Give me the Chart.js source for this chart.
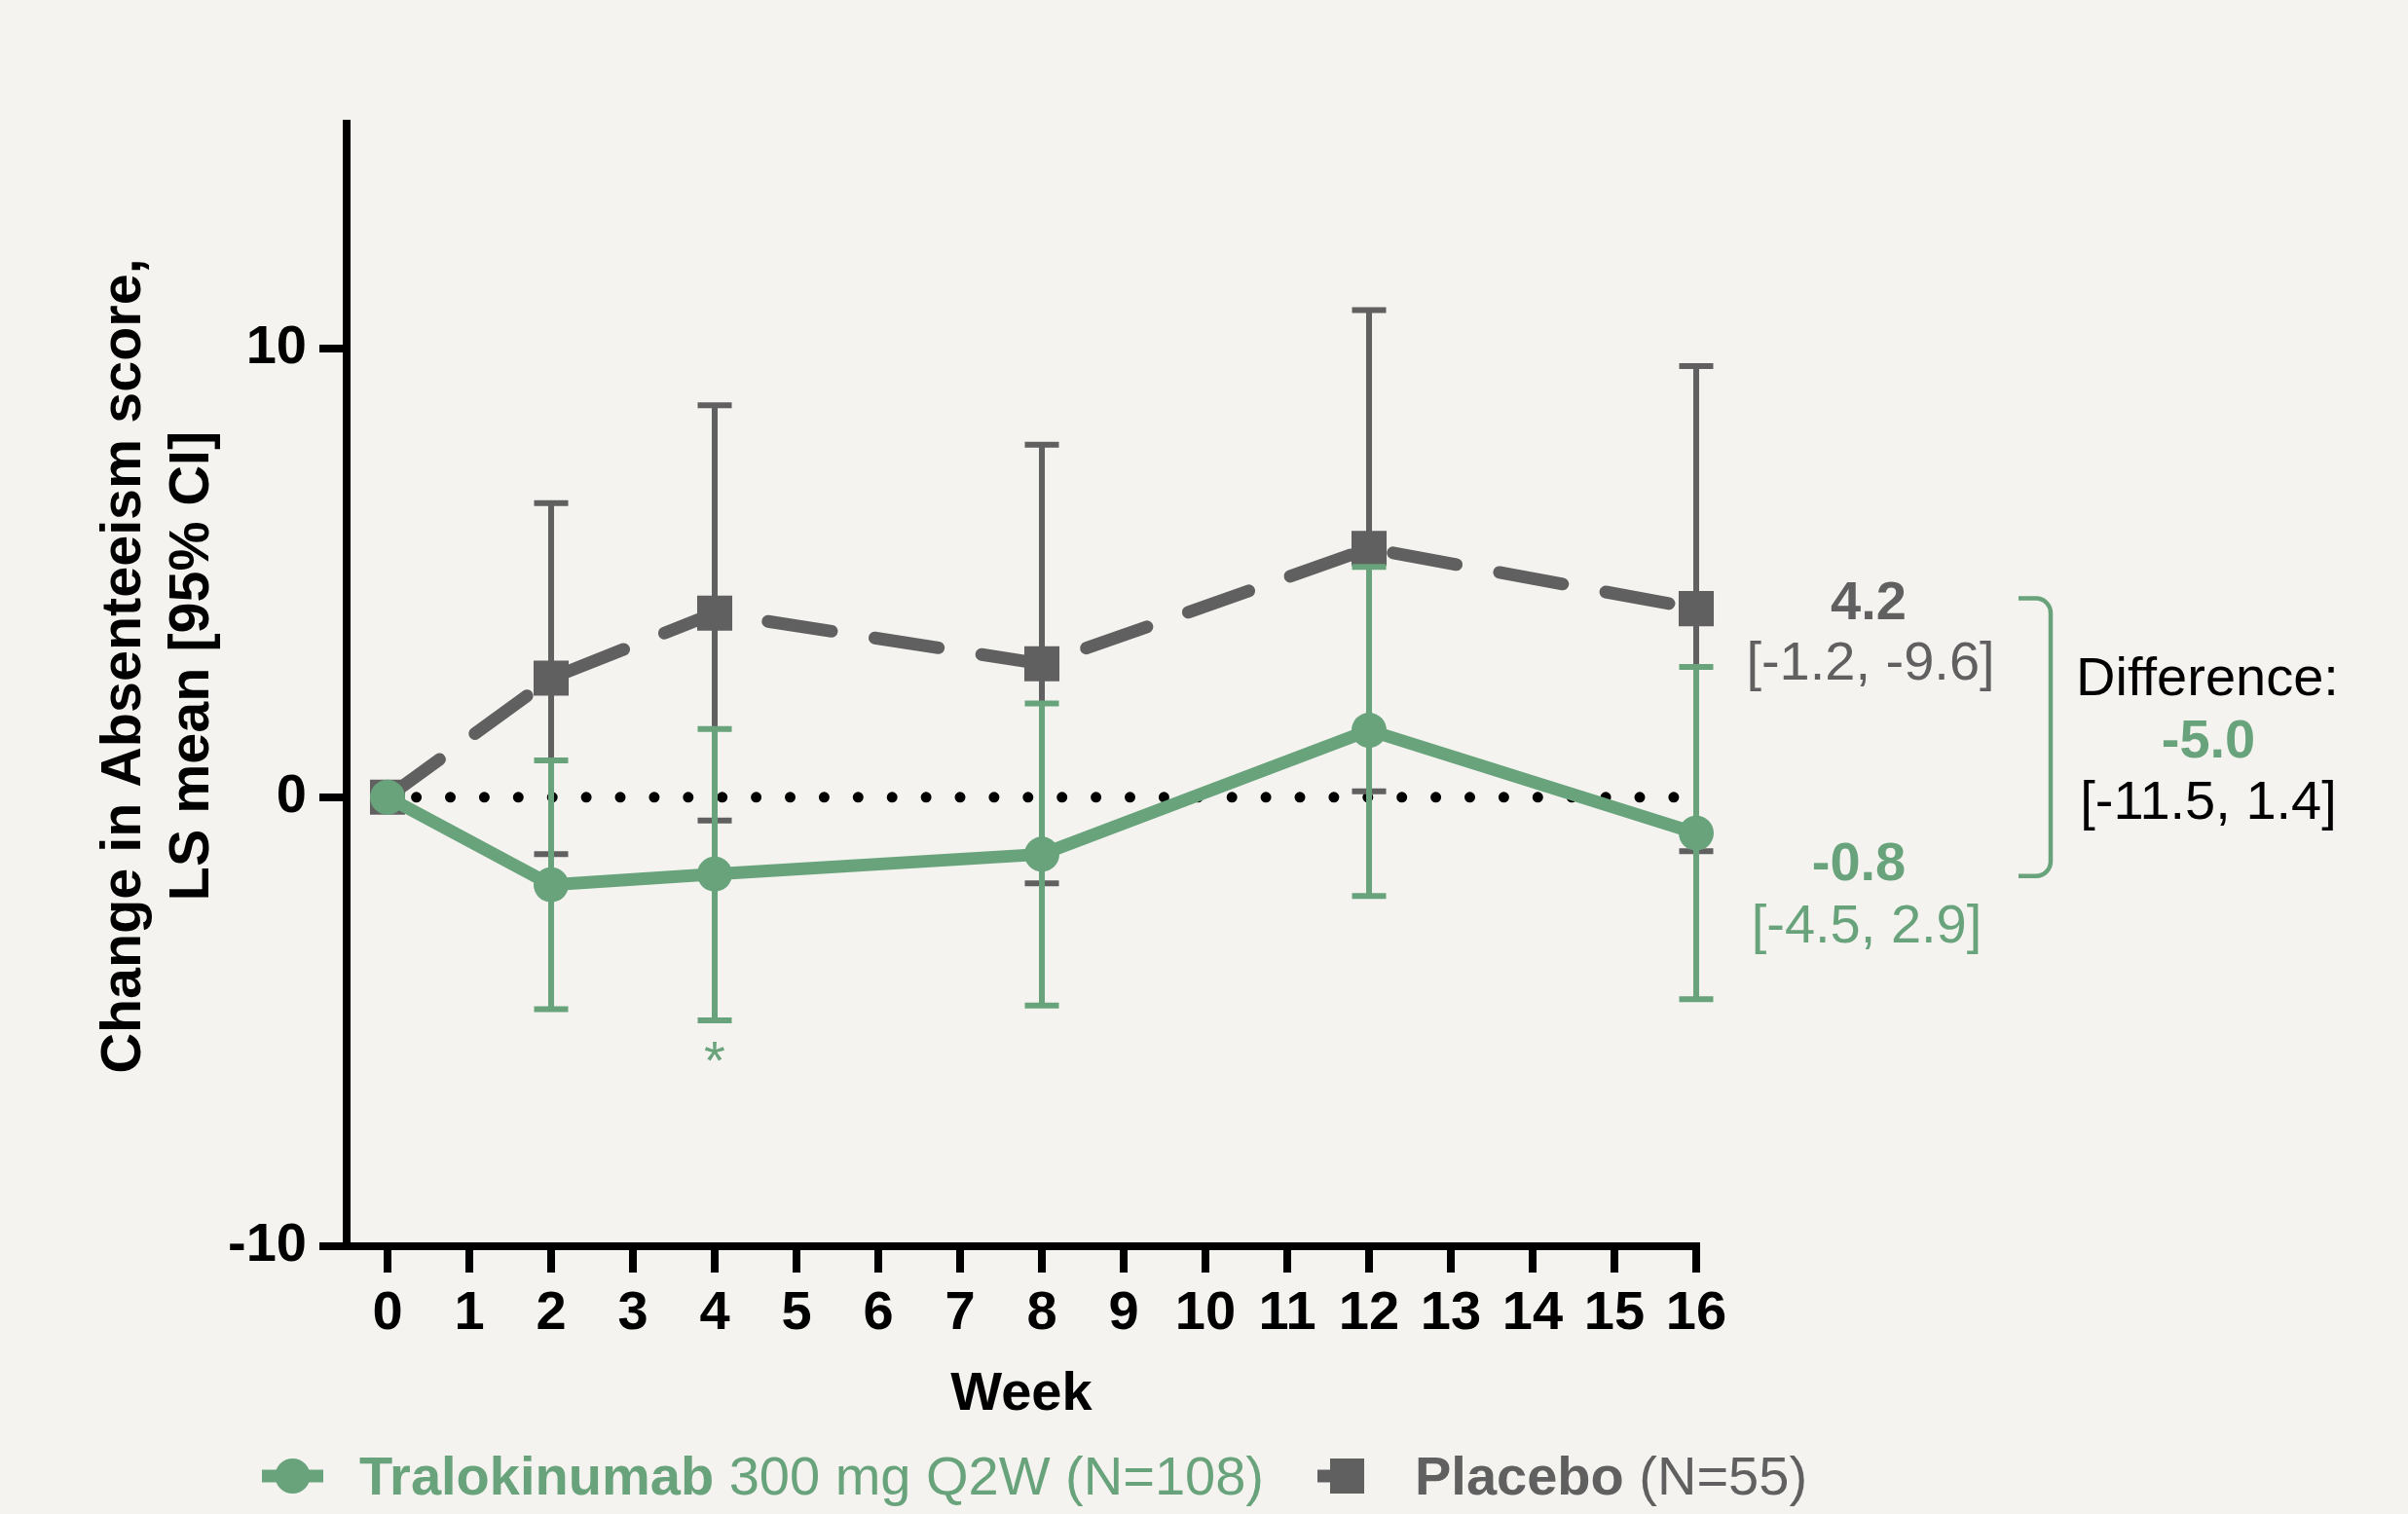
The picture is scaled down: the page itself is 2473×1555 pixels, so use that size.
<!DOCTYPE html>
<html>
<head>
<meta charset="utf-8">
<title>Change in Absenteeism score</title>
<script src="https://cdn.jsdelivr.net/npm/chart.js@4.4.1/dist/chart.umd.min.js"></script>
<style>
  html, body { margin: 0; padding: 0; background: #F4F3EF; }
  canvas { display: block; }
</style>
</head>
<body>
<canvas id="chart" width="2473" height="1555"></canvas>
<script>
// Visit weeks and LS means with 95% CI bounds (null = no interval at baseline)
const weeks = [0, 2, 4, 8, 12, 16];
const tralokinumabMean  = [0, -1.95, -1.71, -1.27, 1.49, -0.8];
const tralokinumabLower = [null, -4.72, -4.97, -4.64, -2.2, -4.5];
const tralokinumabUpper = [null, 0.82, 1.52, 2.09, 5.13, 2.9];
const placeboMean  = [0, 2.65, 4.1, 2.97, 5.54, 4.2];
const placeboLower = [null, -1.27, -0.52, -1.92, 0.13, -1.2];
const placeboUpper = [null, 6.55, 8.73, 7.85, 10.85, 9.6];

// Axis ticks
const xTicks = [0, 1, 2, 3, 4, 5, 6, 7, 8, 9, 10, 11, 12, 13, 14, 15, 16];
const yTicks = [-10, 0, 10];

// Week-16 summary labels
const placeboEndLabel = '4.2';
const placeboEndCI = '[-1.2, -9.6]';
const tralokinumabEndLabel = '-0.8';
const tralokinumabEndCI = '[-4.5, 2.9]';
const differenceTitle = 'Difference:';
const differenceValue = '-5.0';
const differenceCI = '[-11.5, 1.4]';
const significantWeek = 4;

const GREEN = '#68A37C';
const GRAY = '#606060';
const INK = '#000000';
const FONT = "'Liberation Sans', Arial, Helvetica, sans-serif";

const toPoints = (means) => weeks.map((w, i) => ({ x: w, y: means[i] }));

// Vertical CI whiskers, drawn just beneath each dataset's own line and markers
const errorBars = {
  id: 'errorBars',
  beforeDatasetDraw(chart, args) {
    const ds = chart.data.datasets[args.index];
    if (!ds.ciLow) return;
    const { ctx, scales: { x, y } } = chart;
    const half = 17.5;
    ctx.save();
    ctx.strokeStyle = ds.borderColor;
    ctx.lineWidth = 6;
    ctx.lineCap = 'butt';
    ctx.setLineDash([]);
    ds.data.forEach((p, i) => {
      const lo = ds.ciLow[i], hi = ds.ciHigh[i];
      if (lo == null || hi == null) return;
      const px = x.getPixelForValue(p.x);
      const yLo = y.getPixelForValue(lo);
      const yHi = y.getPixelForValue(hi);
      ctx.beginPath();
      ctx.moveTo(px, yLo); ctx.lineTo(px, yHi);
      ctx.moveTo(px - half, yLo); ctx.lineTo(px + half, yLo);
      ctx.moveTo(px - half, yHi); ctx.lineTo(px + half, yHi);
      ctx.stroke();
    });
    ctx.restore();
  }
};

function font(size, bold) {
  return (bold ? 'bold ' : '') + size + 'px ' + FONT;
}

// Axis title, week-16 annotations, difference bracket and legend
const decorations = {
  id: 'decorations',
  afterDraw(chart) {
    const { ctx, scales: { x, y } } = chart;
    ctx.save();

    // rotated y-axis title
    ctx.save();
    ctx.translate(0, 684);
    ctx.rotate(-Math.PI / 2);
    ctx.fillStyle = INK;
    ctx.font = font(57.5, true);
    ctx.textAlign = 'center';
    ctx.textBaseline = 'middle';
    ctx.fillText('Change in Absenteeism score,', 0, 128);
    ctx.fillText('LS mean [95% CI]', 0, 198);
    ctx.restore();

    // significance marker under week 4
    const i4 = weeks.indexOf(significantWeek);
    ctx.fillStyle = GREEN;
    ctx.font = font(56, false);
    ctx.textAlign = 'center';
    ctx.textBaseline = 'alphabetic';
    ctx.fillText('*', x.getPixelForValue(significantWeek), y.getPixelForValue(tralokinumabLower[i4]) + 60);

    // week-16 values
    const x16 = x.getPixelForValue(16);
    const yP = y.getPixelForValue(placeboMean[5]);
    const yT = y.getPixelForValue(tralokinumabMean[5]);
    const y0 = y.getPixelForValue(0);

    ctx.fillStyle = GRAY;
    ctx.font = font(56, true);
    ctx.fillText(placeboEndLabel, x16 + 177, yP + 10.5);
    ctx.font = font(56, false);
    ctx.fillText(placeboEndCI, x16 + 179, yP + 72.5);

    ctx.fillStyle = GREEN;
    ctx.font = font(56, true);
    ctx.fillText(tralokinumabEndLabel, x16 + 167, yT + 48);
    ctx.font = font(56, false);
    ctx.fillText(tralokinumabEndCI, x16 + 175, yT + 112);

    // bracket joining the two week-16 values
    const bx = x16 + 364, bl = x16 + 331, r = 15;
    const bt = yP - 10.5, bb = yT + 44;
    ctx.strokeStyle = GREEN;
    ctx.lineWidth = 4.5;
    ctx.lineCap = 'butt';
    ctx.beginPath();
    ctx.moveTo(bl, bt);
    ctx.arcTo(bx, bt, bx, bt + r * 2, r);
    ctx.arcTo(bx, bb, bl, bb, r);
    ctx.lineTo(bl, bb);
    ctx.stroke();

    // difference block
    ctx.fillStyle = INK;
    ctx.font = font(56, false);
    ctx.fillText(differenceTitle, x16 + 525, y0 - 105);
    ctx.fillStyle = GREEN;
    ctx.font = font(56, true);
    ctx.fillText(differenceValue, x16 + 526, y0 - 41);
    ctx.fillStyle = INK;
    ctx.font = font(56, false);
    ctx.fillText(differenceCI, x16 + 526, y0 + 22);

    // legend
    const ly = 1516, base = 1535;
    ctx.strokeStyle = GREEN;
    ctx.lineWidth = 13;
    ctx.beginPath(); ctx.moveTo(269, ly); ctx.lineTo(332, ly); ctx.stroke();
    ctx.fillStyle = GREEN;
    ctx.beginPath(); ctx.arc(300.5, ly, 18, 0, Math.PI * 2); ctx.fill();
    ctx.textAlign = 'left';
    ctx.font = font(56, true);
    ctx.fillText('Tralokinumab', 369, base);
    let w = ctx.measureText('Tralokinumab').width;
    ctx.font = font(56, false);
    ctx.fillText(' 300 mg Q2W (N=108)', 369 + w, base);

    ctx.strokeStyle = GRAY;
    ctx.beginPath(); ctx.moveTo(1353, ly); ctx.lineTo(1383, ly); ctx.stroke();
    ctx.fillStyle = GRAY;
    ctx.fillRect(1366, ly - 18, 35, 36);
    ctx.font = font(56, true);
    ctx.fillText('Placebo', 1453, base);
    w = ctx.measureText('Placebo').width;
    ctx.font = font(56, false);
    ctx.fillText(' (N=55)', 1453 + w, base);

    ctx.restore();
  }
};

const tickFont = { family: FONT, size: 56, weight: 'bold' };

new Chart(document.getElementById('chart'), {
  type: 'line',
  data: {
    datasets: [
      {
        label: 'Zero',
        data: [{ x: 0, y: 0 }, { x: 16, y: 0 }],
        borderColor: INK,
        borderWidth: 11,
        borderDash: [0, 34.9],
        borderDashOffset: 5.3,
        borderCapStyle: 'round',
        pointRadius: 0,
        order: 3
      },
      {
        label: 'Placebo (N=55)',
        data: toPoints(placeboMean),
        ciLow: placeboLower,
        ciHigh: placeboUpper,
        borderColor: GRAY,
        backgroundColor: GRAY,
        borderWidth: 13,
        borderDash: [66, 45],
        borderCapStyle: 'round',
        borderJoinStyle: 'round',
        pointStyle: 'rect',
        pointRadius: 25.5,
        pointBackgroundColor: GRAY,
        pointBorderWidth: 0,
        order: 2
      },
      {
        label: 'Tralokinumab 300 mg Q2W (N=108)',
        data: toPoints(tralokinumabMean),
        ciLow: tralokinumabLower,
        ciHigh: tralokinumabUpper,
        borderColor: GREEN,
        backgroundColor: GREEN,
        borderWidth: 13,
        borderCapStyle: 'round',
        borderJoinStyle: 'round',
        pointStyle: 'circle',
        pointRadius: 18,
        pointBackgroundColor: GREEN,
        pointBorderWidth: 0,
        order: 1
      }
    ]
  },
  options: {
    responsive: false,
    animation: false,
    devicePixelRatio: 1,
    events: [],
    clip: false,
    layout: { padding: { left: 0, top: 127, right: 731, bottom: 0 } },
    elements: { line: { tension: 0 } },
    plugins: {
      legend: { display: false },
      tooltip: { enabled: false },
      title: { display: false }
    },
    scales: {
      x: {
        type: 'linear',
        min: -0.5,
        max: 16,
        afterBuildTicks: (s) => { s.ticks = xTicks.map((v) => ({ value: v })); },
        afterFit: (s) => { s.height = 275; },
        grid: { display: true, drawOnChartArea: false, drawTicks: true, tickLength: 27, lineWidth: 8, color: INK },
        border: { display: true, width: 8, color: INK },
        ticks: {
          autoSkip: false, maxRotation: 0, minRotation: 0, padding: 9,
          color: INK, font: tickFont,
          callback: (v) => String(v)
        },
        title: {
          display: true, text: 'Week', color: INK,
          font: { family: FONT, size: 56, weight: 'bold' },
          padding: { top: 0, bottom: 89 }
        }
      },
      y: {
        type: 'linear',
        min: -10,
        max: 15,
        afterBuildTicks: (s) => { s.ticks = yTicks.map((v) => ({ value: v })); },
        afterFit: (s) => { s.width = 356; },
        grid: { display: true, drawOnChartArea: false, drawTicks: true, tickLength: 28, lineWidth: 8, color: INK },
        border: { display: true, width: 8, color: INK },
        ticks: {
          padding: 13, color: INK, font: tickFont,
          callback: (v) => String(v)
        }
      }
    }
  },
  plugins: [errorBars, decorations]
});
</script>
</body>
</html>
